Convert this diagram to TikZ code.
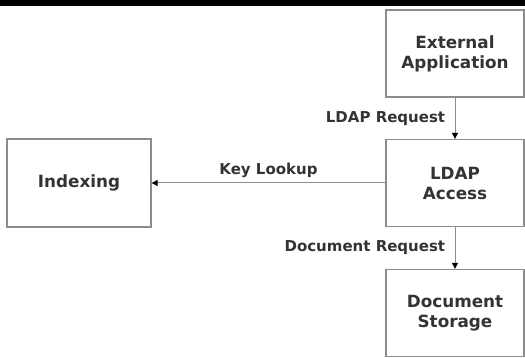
\documentclass[tikz,border=0pt]{standalone}
\usepackage{fontspec}
\setmainfont{DejaVu Sans}
\usepackage{tikz}
\usetikzlibrary{shapes.geometric, arrows}
\usetikzlibrary{positioning}
\usetikzlibrary{arrows.meta}
\definecolor{boxgray}{HTML}{8C8C8C}
\definecolor{txtgray}{HTML}{333333}
\tikzstyle{block} = [rectangle, draw=boxgray, line width=1.3pt, minimum width=138pt,
minimum height=87pt, text centered, align=center, text=txtgray,
font=\bfseries\fontsize{16.8}{20}\selectfont]
\tikzstyle{arrow} = [draw=boxgray, line width=1pt, -{Triangle[length=6pt,width=6pt,color=black]}]
\tikzstyle{lbl} = [text=txtgray, font=\bfseries\fontsize{15}{17}\selectfont]

\begin{document}
\begin{tikzpicture}[x=1pt, y=-1pt]
  \useasboundingbox (0,0) rectangle (525,358);
  \fill[black] (0,0) rectangle (525,6);

  \node (ext) [block] at (455,53.5) {External\\Application};
  \node (ldap) [block] at (455,183) {LDAP\\Access};
  \node (doc) [block] at (455,313) {Document\\Storage};
  \node (idx) [block, minimum width=144pt, minimum height=88pt] at (79,183) {Indexing};

  \draw[arrow] (ext) -- node[lbl, midway, left=6pt] {LDAP Request} (ldap);
  \draw[arrow] (ldap) -- node[lbl, midway, left=6pt] {Document Request} (doc);
  \draw[arrow] (ldap) -- node[lbl, midway, above=1pt] {Key Lookup} (idx);
\end{tikzpicture}
\end{document}
